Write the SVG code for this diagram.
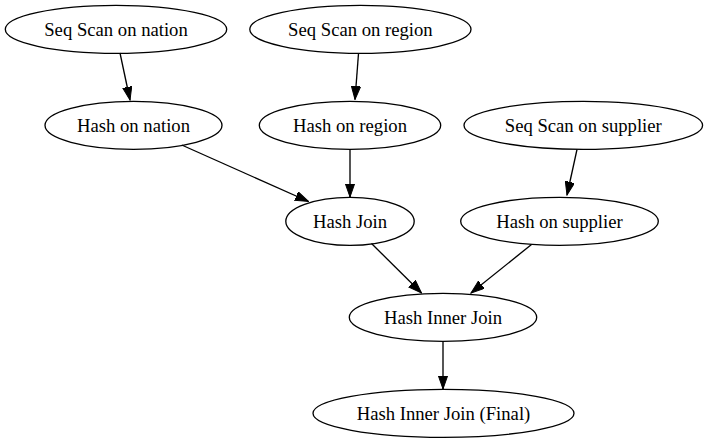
<svg xmlns="http://www.w3.org/2000/svg" width="708" height="443" viewBox="0 0 708 443">
<style>
.node ellipse{fill:none;stroke:#000;stroke-width:1.33}
.node text{font-family:"Liberation Serif","Times New Roman",serif;font-size:18.67px;text-anchor:middle;fill:#000}
.edges line{stroke:#000;stroke-width:1.33;marker-end:url(#arrow)}
</style>
<defs>
<marker id="arrow" markerUnits="userSpaceOnUse" markerWidth="14" markerHeight="10" refX="13.3" refY="4.67" orient="auto">
<path d="M0,0 L13.3,4.67 L0,9.33 z" fill="#000" stroke="#000" stroke-width="1"/>
</marker>
</defs>
<rect width="708" height="443" fill="#fff"/>
<g id="edges" class="edges">
<line x1="120" y1="53" x2="130" y2="100"/>
<line x1="358.5" y1="53.5" x2="355" y2="99.5"/>
<line x1="181.7" y1="145" x2="308.5" y2="201.5"/>
<line x1="350" y1="149.5" x2="350" y2="197"/>
<line x1="577" y1="149.5" x2="567" y2="195"/>
<line x1="371.5" y1="243.5" x2="421.5" y2="293"/>
<line x1="531.5" y1="244.5" x2="471" y2="293"/>
<line x1="443" y1="341.5" x2="443" y2="389"/>
</g>
<g id="seq_nation" class="node"><ellipse cx="116" cy="29.33" rx="110.7" ry="24"/><text x="116" y="35.8">Seq Scan on nation</text></g>
<g id="seq_region" class="node"><ellipse cx="360.4" cy="29.33" rx="110.6" ry="24"/><text x="360.4" y="35.8">Seq Scan on region</text></g>
<g id="hash_nation" class="node"><ellipse cx="133.5" cy="125.33" rx="88.5" ry="24"/><text x="133.5" y="131.8">Hash on nation</text></g>
<g id="hash_region" class="node"><ellipse cx="350" cy="125.33" rx="90.7" ry="24"/><text x="350" y="131.8">Hash on region</text></g>
<g id="seq_supplier" class="node"><ellipse cx="583.3" cy="125.33" rx="119.3" ry="24"/><text x="583.3" y="131.8">Seq Scan on supplier</text></g>
<g id="hash_join" class="node"><ellipse cx="350" cy="221.33" rx="64.2" ry="24"/><text x="350" y="227.8">Hash Join</text></g>
<g id="hash_supplier" class="node"><ellipse cx="559.5" cy="221.33" rx="98.8" ry="24"/><text x="559.5" y="227.8">Hash on supplier</text></g>
<g id="hash_inner_join" class="node"><ellipse cx="443" cy="317.33" rx="93.7" ry="24"/><text x="443" y="323.8">Hash Inner Join</text></g>
<g id="hash_inner_join_final" class="node"><ellipse cx="443.5" cy="413.33" rx="130.5" ry="24"/><text x="443.5" y="419.8">Hash Inner Join (Final)</text></g>
</svg>
